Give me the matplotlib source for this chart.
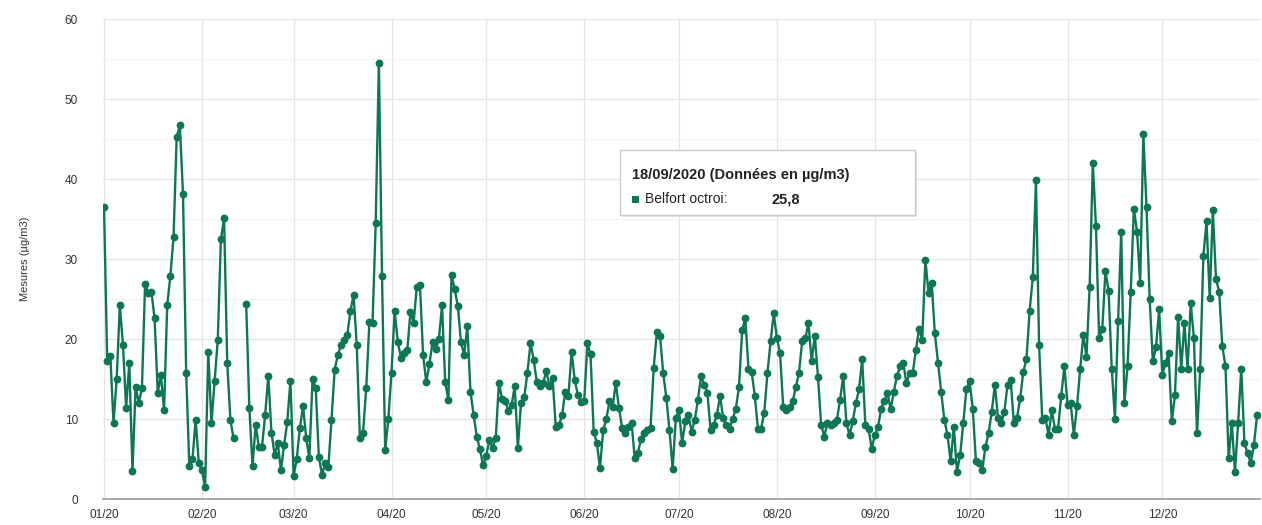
import numpy as np
import pandas as pd
import matplotlib
matplotlib.use("Agg")
import matplotlib.pyplot as plt
import matplotlib.dates as mdates
from matplotlib.patches import FancyBboxPatch, Rectangle

nan = np.nan
jan = [36.5, 17.3, 17.9, 9.5, 15.0, 24.2, 19.2, 11.4, 17.0, 3.5, 14.0, 12.0, 13.9, 26.9, 25.8, 25.9,
       22.6, 13.3, 15.5, 11.1, 24.2, 27.9, 32.7, 45.3, 46.7, 38.1, 15.8, 4.1, 5.0, 9.9, 4.5]
feb = [3.6, 1.5, 18.4, 9.5, 14.7, 19.9, 32.5, 35.1, 17.0, 9.9, 7.6, nan, nan, nan, 24.4, 11.4, 4.1,
       9.3, 6.5, 6.5, 10.5, 15.4, 8.3, 5.5, 7.0, 3.6, 6.8, 9.6, 14.8]
mar = [2.9, 5.0, 8.9, 11.6, 7.6, 5.1, 15.0, 13.9, 5.3, 3.0, 4.5, 4.0, 9.9, 16.1, 18.0, 19.2, 19.9,
       20.5, 23.5, 25.5, 19.2, 7.6, 8.3, 13.9, 22.1, 22.0, 34.5, 54.5, 27.9, 6.1, 10.0]
apr = [15.8, 23.5, 19.6, 17.6, 18.2, 18.6, 23.4, 22.0, 26.5, 26.8, 18.0, 14.6, 16.9, 19.6, 18.7,
       20.0, 24.2, 14.6, 12.4, 28.0, 26.2, 24.1, 19.6, 18.0, 21.6, 13.4, 10.5, 7.8, 6.2, 4.2]
may = [5.4, 7.4, 6.4, 7.6, 14.5, 12.5, 12.3, 11.0, 11.7, 14.1, 6.4, 12.0, 12.7, 15.7, 19.5, 17.4,
       14.6, 14.1, 14.5, 16.0, 14.1, 15.1, 9.0, 9.2, 10.5, 13.4, 12.9, 18.4, 14.9, 13.0, 12.1]
jun = [12.2, 19.5, 18.1, 8.4, 7.0, 3.9, 8.6, 10.0, 12.2, 11.5, 14.5, 11.4, 8.9, 8.3, 9.0, 9.5, 5.1,
       5.8, 7.5, 8.3, 8.6, 8.9, 16.4, 20.9, 20.4, 15.8, 12.6, 8.6, 3.75, 10.1]
jul = [11.1, 7.0, 9.7, 10.5, 8.4, 9.9, 12.4, 15.4, 14.2, 13.3, 8.6, 9.25, 10.5, 12.9, 10.1, 9.25,
       8.8, 10.0, 11.3, 14.0, 21.1, 22.6, 16.3, 15.9, 12.9, 8.8, 8.8, 10.8, 15.7, 19.7, 23.2]
aug = [20.1, 18.2, 11.5, 11.1, 11.5, 12.2, 14.0, 15.8, 19.7, 20.1, 22.0, 17.2, 20.4, 15.3, 9.25,
       7.8, 9.5, 9.25, 9.5, 9.9, 12.4, 15.4, 9.5, 8.0, 9.7, 12.0, 13.7, 17.5, 9.25, 8.8, 6.3]
sep = [8.0, 9.0, 11.3, 12.2, 13.3, 11.2, 13.4, 15.4, 16.6, 17.0, 14.5, 15.7, 15.8, 18.6, 21.3, 19.9,
       29.9, 25.8, 27.0, 20.7, 17.0, 13.4, 9.9, 8.0, 4.7, 9.0, 3.4, 5.5, 9.5, 13.8]
oct_ = [14.7, 11.3, 4.7, 4.5, 3.6, 6.5, 8.2, 10.9, 14.25, 10.1, 9.5, 10.9, 14.25, 14.9, 9.5, 10.1,
        12.6, 15.9, 17.5, 23.5, 27.7, 39.9, 19.25, 9.9, 10.1, 8.0, 11.1, 8.8, 8.8, 12.9, 16.6]
nov = [11.75, 12.0, 8.0, 11.6, 16.2, 20.5, 17.8, 26.5, 42.0, 34.1, 20.1, 21.3, 28.5, 26.0, 16.3,
       10.0, 22.2, 33.4, 12.0, 16.6, 25.9, 36.3, 33.4, 27.0, 45.6, 36.5, 25.0, 17.2, 19.0, 23.7]
dec = [15.5, 17.0, 18.2, 9.7, 13.0, 22.8, 16.3, 22.0, 16.3, 24.5, 20.1, 8.2, 16.3, 30.4, 34.7, 25.1,
       36.1, 27.5, 25.9, 19.1, 16.6, 5.1, 9.5, 3.4, 9.5, 16.3, 7.0, 5.7, 4.5, 6.75, 10.5]

values = np.array(jan + feb + mar + apr + may + jun + jul + aug + sep + oct_ + nov + dec, dtype=float)
dates = pd.date_range("2020-01-01", periods=len(values), freq="D")
month_ticks = pd.date_range("2020-01-01", "2020-12-01", freq="MS")
series_name = "Belfort octroi"
y_label = "Mesures (µg/m3)"
tooltip_title = "18/09/2020 (Données en µg/m3)"
tooltip_value = "25,8"

color = "#0d7656"
plt.rcParams["font.family"] = ["Liberation Sans", "DejaVu Sans"]

fig = plt.figure(figsize=(12.62, 5.25), dpi=100)
ax = fig.add_axes([0.0816, 0.0495, 0.917, 0.9143])

ax.plot(dates, values, color=color, lw=1.7, marker="o", ms=4.6, mfc=color, mec=color, zorder=3)

ax.set_ylim(0, 60)
ax.set_xlim(pd.Timestamp("2019-12-31 16:00"), pd.Timestamp("2021-01-01 00:00"))
ax.set_yticks(np.arange(0, 61, 10))
ax.set_yticks(np.arange(5, 60, 10), minor=True)
ax.set_xticks(month_ticks)
ax.xaxis.set_major_formatter(mdates.DateFormatter("%m/%y"))

ax.grid(True, which="major", axis="both", color="#e4e4e4", lw=0.9, zorder=0)
ax.grid(True, which="minor", axis="y", color="#f3f3f3", lw=0.8, zorder=0)
for s in ["top", "right", "left"]:
    ax.spines[s].set_visible(False)
ax.spines["bottom"].set_color("#999999")
ax.spines["bottom"].set_linewidth(1.2)
ax.tick_params(axis="y", which="both", length=0, labelsize=8.5, colors="#333333", pad=18)
ax.tick_params(axis="x", which="both", length=0, labelsize=8.5, colors="#333333", pad=7)
ax.set_ylabel(y_label, fontsize=8, color="#333333", labelpad=25)

# tooltip
x0, y0, x1, y1 = 620, 150, 915, 215
W, H = 1262, 525
box = FancyBboxPatch((x0 / W, 1 - y1 / H), (x1 - x0) / W, (y1 - y0) / H,
                     boxstyle="square,pad=0", transform=fig.transFigure,
                     facecolor="white", edgecolor="#cccccc", lw=1.0, zorder=10)
shadow = FancyBboxPatch(((x0 + 2) / W, 1 - (y1 + 2) / H), (x1 - x0) / W, (y1 - y0) / H,
                        boxstyle="square,pad=0", transform=fig.transFigure,
                        facecolor="#e6e6e6", edgecolor="none", zorder=9)
fig.patches.extend([shadow, box])
fig.text(632 / W, 1 - 175 / H, tooltip_title, fontsize=10.5, fontweight="bold",
         color="#222222", va="center", ha="left", zorder=11)
fig.patches.append(Rectangle((632 / W, 1 - 203 / H), 7 / W, 7 / H, transform=fig.transFigure,
                             facecolor=color, edgecolor="none", zorder=11))
fig.text(645 / W, 1 - 199 / H, series_name + ":", fontsize=10, color="#222222",
         va="center", ha="left", zorder=11)
fig.text(772 / W, 1 - 199 / H, tooltip_value, fontsize=10.5, fontweight="bold",
         color="#222222", va="center", ha="left", zorder=11)

fig.savefig("out.png", dpi=100)
